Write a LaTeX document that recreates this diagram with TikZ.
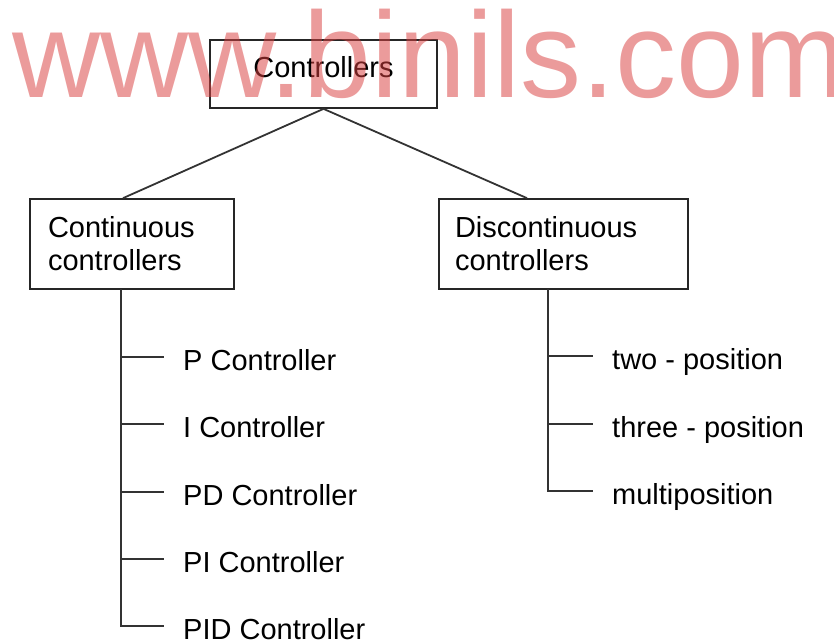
\documentclass[tikz,border=0pt]{standalone}
\usepackage{fontspec}
\setmainfont{Liberation Sans}
\usetikzlibrary{positioning}
\tikzset
{
    ctrlbox/.style = {rectangle, draw=black!85, line width=1.7pt, align=left, inner ysep=0pt, font=\fontsize{29}{33}\selectfont},
    leafnode/.style = {anchor=west, inner xsep=19pt, inner ysep=0pt, text height=27pt, text depth=0pt, font=\fontsize{29}{33}\selectfont},
    branch/.style = {draw=black!80, line width=1.8pt},
    watermark/.style = {anchor=base west, inner sep=0pt, text=red!80!black!75, text opacity=0.52, font=\fontsize{122}{122}\selectfont}
}
\begin{document}
\begin{tikzpicture}[x=1pt, y=-1pt]
\useasboundingbox (0,0) rectangle (834,643);
% boxes
\node[ctrlbox, minimum width=227pt, minimum height=68pt, align=center, text height=21pt, text depth=15pt] (ctrl) at (323.5,74) {Controllers};
\node[ctrlbox, minimum width=204pt, minimum height=90pt, text width=168pt, inner xsep=18pt] (cont) at (132,244) {Continuous\\controllers};
\node[ctrlbox, minimum width=249pt, minimum height=90pt, text width=217pt, inner xsep=16pt] (discont) at (563.5,244) {Discontinuous\\controllers};
\draw[branch] (ctrl.south) -- (cont.north -| 123,0);
\draw[branch] (ctrl.south) -- (discont.north -| 527,0);
% continuous leaves
\coordinate (ctrunk) at (121,289);
\node[leafnode] (pctrl) at (164,357) {P Controller};
\node[leafnode] (ictrl) at (164,424) {I Controller};
\node[leafnode] (pdctrl) at (164,492) {PD Controller};
\node[leafnode] (pictrl) at (164,559) {PI Controller};
\node[leafnode] (pidctrl) at (164,626) {PID Controller};
\draw[branch] (ctrunk) |- (pidctrl.west);
\draw[branch] (pctrl.west -| ctrunk) -- (pctrl.west);
\draw[branch] (ictrl.west -| ctrunk) -- (ictrl.west);
\draw[branch] (pdctrl.west -| ctrunk) -- (pdctrl.west);
\draw[branch] (pictrl.west -| ctrunk) -- (pictrl.west);
% discontinuous leaves
\coordinate (dtrunk) at (548,289);
\node[leafnode] (twopos) at (593,356) {two - position};
\node[leafnode] (threepos) at (593,424) {three - position};
\node[leafnode] (multipos) at (593,491) {multiposition};
\draw[branch] (dtrunk) |- (multipos.west);
\draw[branch] (twopos.west -| dtrunk) -- (twopos.west);
\draw[branch] (threepos.west -| dtrunk) -- (threepos.west);
% watermark
\node[watermark] (wmark) at (12,97) {www.binils.com};
\end{tikzpicture}
\end{document}
